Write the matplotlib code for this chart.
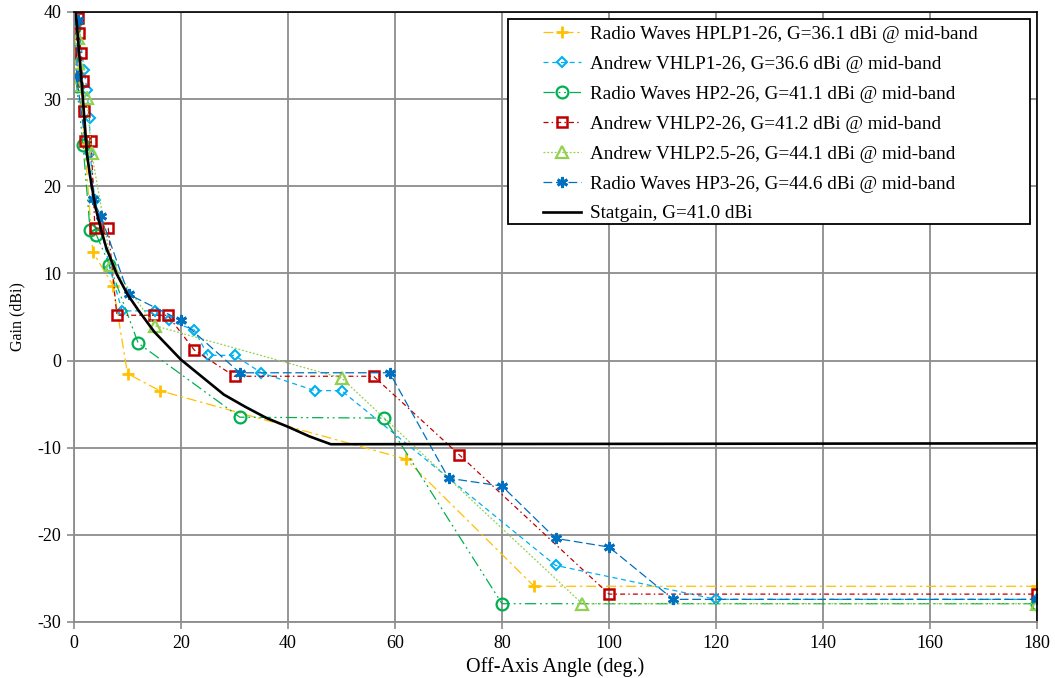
import matplotlib
matplotlib.use("Agg")
import matplotlib.pyplot as plt
from matplotlib.patches import Rectangle

# ---- data ----
hplp1_x = [0, 1, 2, 3.5, 7.3, 10, 16, 62, 86, 180]
hplp1_y = [36.1, 33.0, 25.0, 12.5, 8.6, -1.5, -3.45, -11.3, -25.9, -25.9]

vhlp1_x = [0, 0.8, 1.9, 2.4, 2.9, 3.0, 3.9, 6.7, 9.0, 15.1, 17.8, 22.5, 25, 30, 35, 45, 50, 90, 120, 180]
vhlp1_y = [36.6, 38.7, 33.3, 31.1, 27.8, 23.8, 18.4, 10.6, 5.7, 5.7, 4.6, 3.5, 0.6, 0.6, -1.4, -3.45, -3.45, -23.5, -27.4, -27.4]

hp2_x = [0, 0.5, 1.7, 3.0, 4.2, 6.6, 12, 31, 58, 80, 180]
hp2_y = [38.2, 31.5, 24.7, 15.0, 14.4, 11.0, 2.0, -6.5, -6.6, -27.9, -27.9]

vhlp2_x = [0.8, 1.0, 1.3, 1.6, 1.8, 2.1, 3.2, 3.9, 6.4, 8, 15, 17.5, 22.5, 30, 56, 72, 100, 180]
vhlp2_y = [39.3, 37.6, 35.3, 32.1, 28.6, 25.2, 25.2, 15.2, 15.2, 5.2, 5.2, 5.2, 1.2, -1.8, -1.8, -10.8, -26.8, -26.8]

vhlp25_x = [0.8, 0.8, 0.5, 2.4, 3.3, 7, 15.1, 50, 95, 180]
vhlp25_y = [37.0, 34.1, 31.6, 30.1, 23.8, 11.0, 4.0, -2.0, -27.9, -27.9]

hp3_x = [0.8, 0.5, 3.5, 5.0, 10.2, 20, 31, 59, 70, 80, 90, 100, 112, 180]
hp3_y = [39.1, 32.6, 18.5, 16.6, 7.6, 4.6, -1.4, -1.4, -13.5, -14.4, -20.4, -21.4, -27.4, -27.4]

stat_x = [0, 0.5, 1, 1.5, 2, 2.4, 3, 4, 5, 6, 8, 10, 12, 15, 20, 24, 28, 32, 36, 40, 44, 48, 180]
stat_y = [41.0, 38.8, 35.0, 31.3, 27.3, 23.8, 21.2, 17.6, 15.2, 13.0, 9.9, 7.6, 5.8, 3.3, 0.1, -1.9, -3.9, -5.3, -6.6, -7.6, -8.7, -9.6, -9.5]

labels = [
    "Radio Waves HPLP1-26, G=36.1 dBi @ mid-band",
    "Andrew VHLP1-26, G=36.6 dBi @ mid-band",
    "Radio Waves HP2-26, G=41.1 dBi @ mid-band",
    "Andrew VHLP2-26, G=41.2 dBi @ mid-band",
    "Andrew VHLP2.5-26, G=44.1 dBi @ mid-band",
    "Radio Waves HP3-26, G=44.6 dBi @ mid-band",
    "Statgain, G=41.0 dBi",
]
x_ticks = [0, 20, 40, 60, 80, 100, 120, 140, 160, 180]
y_ticks = [-30, -20, -10, 0, 10, 20, 30, 40]

plt.rcParams['font.family'] = ['Liberation Serif', 'DejaVu Serif']
plt.rcParams['axes.unicode_minus'] = False

fig = plt.figure(figsize=(10.55, 6.78), dpi=100)
ax = fig.add_axes([74/1055, 1-622/678, (1037-74)/1055, (622-12)/678])

grid_c = '#8c8c8c'
ax.set_xlim(0, 180)
ax.set_ylim(-30, 40)
ax.set_xticks(x_ticks)
ax.set_yticks(y_ticks)
ax.grid(True, color=grid_c, linewidth=1.3)
ax.set_axisbelow(True)

lw = 0.9
ax.plot(hplp1_x, hplp1_y, color='#FFC000', lw=lw, linestyle=(0, (8, 3, 2, 3)),
        marker='+', ms=9, mew=2.0, label=labels[0])
ax.plot(vhlp1_x, vhlp1_y, color='#00B0F0', lw=lw, linestyle=(0, (4, 3)),
        marker='D', ms=5, mew=1.5, mfc='none', label=labels[1])
ax.plot(hp2_x, hp2_y, color='#00B050', lw=lw, linestyle=(0, (9, 3, 1.5, 3, 1.5, 3)),
        marker='o', ms=8.5, mew=1.6, mfc='none', label=labels[2])
ax.plot(vhlp2_x, vhlp2_y, color='#C00000', lw=lw, linestyle=(0, (4, 2.5, 1.2, 2.5)),
        marker='s', ms=7, mew=1.8, mfc='none', label=labels[3])
ax.plot(vhlp25_x, vhlp25_y, color='#92D050', lw=lw, linestyle=(0, (1.5, 1.5)),
        marker='^', ms=8.5, mew=1.6, mfc='none', label=labels[4])
ax.plot(hp3_x, hp3_y, color='#0070C0', lw=lw, linestyle=(0, (7, 3)),
        marker=(6, 2, 0), ms=8, mew=2.0, label=labels[5])
ax.plot(stat_x, stat_y, color='black', lw=1.9, label=labels[6])

for s in ['top', 'right']:
    ax.spines[s].set_color('black')
    ax.spines[s].set_linewidth(1.2)
for s in ['left', 'bottom']:
    ax.spines[s].set_color(grid_c)
    ax.spines[s].set_linewidth(1.3)
ax.tick_params(direction='out', length=5, width=1.2, color=grid_c,
               labelsize=13, pad=4)

ax.set_xlabel("Off-Axis Angle (deg.)", fontsize=14.5, labelpad=4)
ax.set_ylabel("Gain (dBi)", fontsize=11.5, labelpad=9)

leg = ax.legend(loc='upper left', bbox_to_anchor=((537-74)/963, 1 - 8/610),
                frameon=False, fontsize=13.8, handlelength=2.0, handletextpad=0.45,
                labelspacing=0.65, borderaxespad=0, borderpad=0.3)
# legend frame
ax.add_patch(Rectangle(((508-74)/963, (622-224)/610), (1030-508)/963, (224-19)/610,
                       transform=ax.transAxes, fill=True, facecolor='white',
                       edgecolor='black', linewidth=1.3, zorder=4.5))
leg.set_zorder(5)

fig.savefig("out.png", dpi=100)
